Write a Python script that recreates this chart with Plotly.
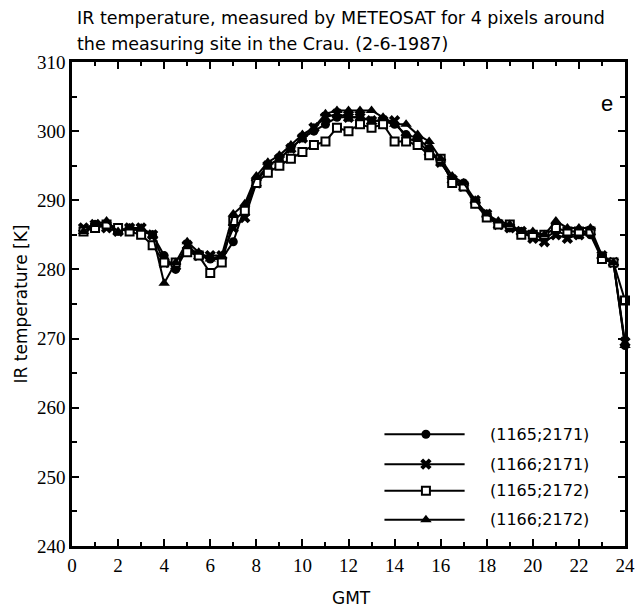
import plotly.graph_objects as go

hours = [0.5 * i for i in range(1, 49)]

t_1165_2171 = [285.5, 286.5, 286.5, 285.5, 286, 285.5, 285, 282, 280, 283, 282, 281.5,
               281.5, 284, 289, 293, 295, 296, 297.5, 299, 300, 301, 302, 302,
               302, 301.5, 301.5, 301, 299.5, 299, 297.5, 295.5, 293, 292.5, 289.5, 288,
               286.5, 286, 285.5, 285, 284.5, 285.5, 285, 285, 285, 281.5, 281, 269]
t_1166_2171 = [286, 286.5, 286, 285.5, 286, 286, 285, 281, 280.5, 283.5, 282, 282,
               282, 286, 287.5, 292.5, 295, 296, 297.5, 299, 300.5, 302, 302.5, 302,
               302, 301.5, 301.5, 301.5, 299, 298.5, 297, 295.5, 293, 292, 290, 288,
               286.5, 286, 285.5, 284.5, 284, 285, 284.5, 285, 285.5, 282, 281, 269.5]
t_1165_2172 = [285.5, 286, 286.5, 286, 285.5, 285, 283.5, 281, 281, 282.5, 282, 279.5,
               281, 287, 288.5, 292.5, 294, 295, 296, 297, 298, 298.5, 300.5, 300,
               301, 300.5, 301, 298.5, 298.5, 298, 296.5, 296, 292.5, 292, 289.5, 287.5,
               286.5, 286.5, 285, 285, 285, 286, 285.5, 285.5, 285.5, 281.5, 281, 275.5]
t_1166_2172 = [285.5, 286.5, 287, 285.5, 286, 286, 285, 278, 281, 284, 282.5, 281.5,
               282, 288, 289.5, 293.5, 295.5, 296.5, 298, 299.5, 300.5, 302.5, 303, 303,
               303, 303, 302, 301, 301, 299.5, 298.5, 296, 293.5, 292.5, 290, 288,
               287, 286.5, 285.5, 285.5, 285, 287, 286, 286, 286, 282, 281, 269]

series_names = ["(1165;2171)", "(1166;2171)", "(1165;2172)", "(1166;2172)"]
series_values = [t_1165_2171, t_1166_2171, t_1165_2172, t_1166_2172]
symbols = ["circle", "x", "square", "triangle-up"]
msizes = [9, 10, 8, 10]
fills = ["black", "black", "white", "black"]

x_ticks = list(range(0, 25, 2))
y_ticks = list(range(240, 311, 10))

SANS = "DejaVu Sans, Arial"
SERIF = "Liberation Serif, Times New Roman"


def mk(sym, ms, fill):
    if fill == "white":
        return dict(symbol=sym, size=ms, color="white", line=dict(color="black", width=2))
    return dict(symbol=sym, size=ms, color="black", line=dict(color="black", width=0))


fig = go.Figure()
for name, vals, sym, ms, fill in zip(series_names, series_values, symbols, msizes, fills):
    fig.add_trace(go.Scatter(x=hours, y=vals, mode="lines+markers", name=name,
                             line=dict(color="black", width=2), marker=mk(sym, ms, fill),
                             cliponaxis=False, showlegend=False))

# custom legend on overlay axes
leg_y = [0.231, 0.169, 0.114, 0.054]
for name, sym, ms, fill, ly in zip(series_names, symbols, msizes, fills, leg_y):
    fig.add_trace(go.Scatter(x=[0.565, 0.71], y=[ly, ly], mode="lines", xaxis="x2", yaxis="y2",
                             line=dict(color="black", width=2), showlegend=False, hoverinfo="skip"))
    fig.add_trace(go.Scatter(x=[0.64], y=[ly], mode="markers", xaxis="x2", yaxis="y2",
                             marker=mk(sym, ms, fill), showlegend=False, hoverinfo="skip"))
    fig.add_annotation(x=0.752, y=ly, xref="x2", yref="y2", text=name, showarrow=False,
                       xanchor="left", yanchor="middle",
                       font=dict(family=SANS, size=16, color="black"))

fig.add_annotation(x=0.982, y=0.915, xref="paper", yref="paper", text="e", showarrow=False,
                   xanchor="right", yanchor="middle",
                   font=dict(family="Liberation Sans, Arial", size=22, color="black"))

title_lines = ["IR temperature, measured by METEOSAT for 4 pixels around",
               "the measuring site in the Crau. (2-6-1987)"]
for txt, yy in zip(title_lines, [1.0909, 1.0372]):
    fig.add_annotation(x=0.005, y=yy, xref="paper", yref="paper", text=txt, showarrow=False,
                       xanchor="left", yanchor="middle",
                       font=dict(family=SANS, size=17.5, color="black"))

fig.add_annotation(x=0.505, y=-0.107, xref="paper", yref="paper", text="GMT", showarrow=False,
                   xanchor="center", yanchor="middle",
                   font=dict(family=SANS, size=17, color="black"))

fig.update_layout(
    width=642, height=610,
    margin=dict(l=72, r=17, t=62, b=64, autoexpand=False),
    paper_bgcolor="white", plot_bgcolor="white",
    xaxis=dict(range=[0, 24], tickvals=x_ticks, ticktext=[str(v) for v in x_ticks],
               ticks="inside", ticklen=7, tickwidth=1.5, tickcolor="black",
               minor=dict(ticks="inside", dtick=1, ticklen=4, tickwidth=1.5, tickcolor="black"),
               showline=True, linewidth=2.5, linecolor="black", mirror="ticks",
               showgrid=False, zeroline=False, automargin=False,
               tickfont=dict(family=SERIF, size=19, color="black")),
    yaxis=dict(range=[240, 310], tickvals=y_ticks, ticktext=[str(v) for v in y_ticks],
               ticks="inside", ticklen=7, tickwidth=1.5, tickcolor="black",
               minor=dict(ticks="inside", dtick=5, ticklen=5, tickwidth=1.5, tickcolor="black"),
               showline=True, linewidth=2.5, linecolor="black", mirror="ticks",
               showgrid=False, zeroline=False, automargin=False,
               tickfont=dict(family=SERIF, size=19, color="black"),
               title=dict(text="IR temperature [K]", font=dict(family=SANS, size=17, color="black"),
                          standoff=6)),
    xaxis2=dict(range=[0, 1], overlaying="x", visible=False, fixedrange=True),
    yaxis2=dict(range=[0, 1], overlaying="y", visible=False, fixedrange=True),
)

fig.write_html("out.html")
